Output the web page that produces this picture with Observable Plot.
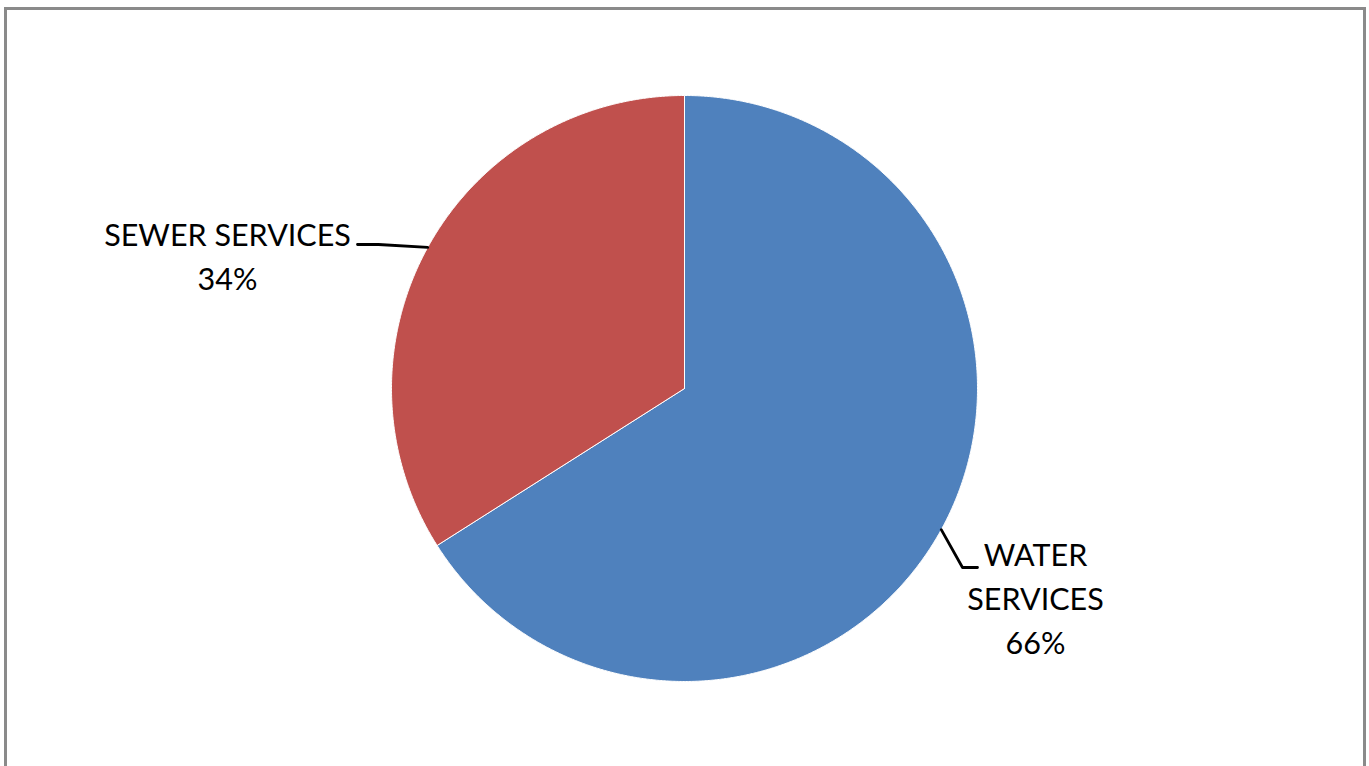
<!DOCTYPE html>
<html>
<head>
<meta charset="utf-8">
<script src="https://cdn.jsdelivr.net/npm/d3@7"></script>
<script src="https://cdn.jsdelivr.net/npm/@observablehq/plot@0.6"></script>
<style>
  html, body { margin: 0; padding: 0; background: #fff; overflow: hidden; }
  #wrap { position: relative; width: 1369px; height: 766px; }
  #frame { position: absolute; left: 4px; top: 7px; width: 1356px; height: 800px;
           border: 3px solid #8a8a8a; border-bottom: none; pointer-events: none; }
</style>
</head>
<body>
<div id="wrap"><div id="frame"></div></div>
<script>
// ---- data ----
const categories = ["WATER SERVICES", "SEWER SERVICES"];
const shares = [66, 34];
const labelLines = [["WATER", "SERVICES", "66%"], ["SEWER SERVICES", "34%"]];
const colors = ["#4F81BD", "#C0504D"];

// ---- layout (pixels) ----
const W = 1369, H = 766;
const cx = 684, cy = 388, R = 293;
const toX = px => (px - cx) / R;
const toY = py => (cy - py) / R;
// label blocks: center x, top y
const labelPos = [{x: 1035, y: 534}, {x: 227, y: 214}];
// leader elbow and end points
const leaderPts = [
  [{x: 962, y: 567}, {x: 977, y: 567}],
  [{x: 378, y: 244}, {x: 357, y: 244}]
];

const pie = d3.pie().sort(null).value(d => d)(shares);

const marks = [];
pie.forEach((arc, i) => {
  const n = Math.max(2, Math.ceil((arc.endAngle - arc.startAngle) / 0.005));
  const pts = [{x: 0, y: 0}];
  for (let k = 0; k <= n; k++) {
    const a = arc.startAngle + (arc.endAngle - arc.startAngle) * k / n;
    pts.push({x: Math.sin(a), y: Math.cos(a)});
  }
  pts.push({x: 0, y: 0});
  marks.push(Plot.line(pts, {x: "x", y: "y", fill: colors[i], stroke: "#ffffff", strokeWidth: 1, strokeLinejoin: "round"}));
});

pie.forEach((arc, i) => {
  const mid = (arc.startAngle + arc.endAngle) / 2;
  const pts = [{x: Math.sin(mid), y: Math.cos(mid)},
    ...leaderPts[i].map(p => ({x: toX(p.x), y: toY(p.y)}))];
  marks.push(Plot.line(pts, {x: "x", y: "y", stroke: "#000", strokeWidth: 2.8}));
});

const labels = categories.map((c, i) => ({
  text: labelLines[i].join("\n"),
  x: toX(labelPos[i].x),
  y: toY(labelPos[i].y)
}));
marks.push(Plot.text(labels, {
  x: "x", y: "y", text: "text",
  textAnchor: "middle", lineAnchor: "top", lineHeight: 1.44,
  fontSize: 30.5, fill: "#000", fontFamily: "Lato"
}));

const chart = Plot.plot({
  width: W, height: H,
  marginTop: 0, marginRight: 0, marginBottom: 0, marginLeft: 0,
  x: {domain: [-1, 1], range: [cx - R, cx + R], axis: null},
  y: {domain: [-1, 1], range: [cy + R, cy - R], axis: null},
  style: {background: "transparent", fontFamily: "Lato"},
  marks
});
document.getElementById("wrap").prepend(chart);
</script>
</body>
</html>
